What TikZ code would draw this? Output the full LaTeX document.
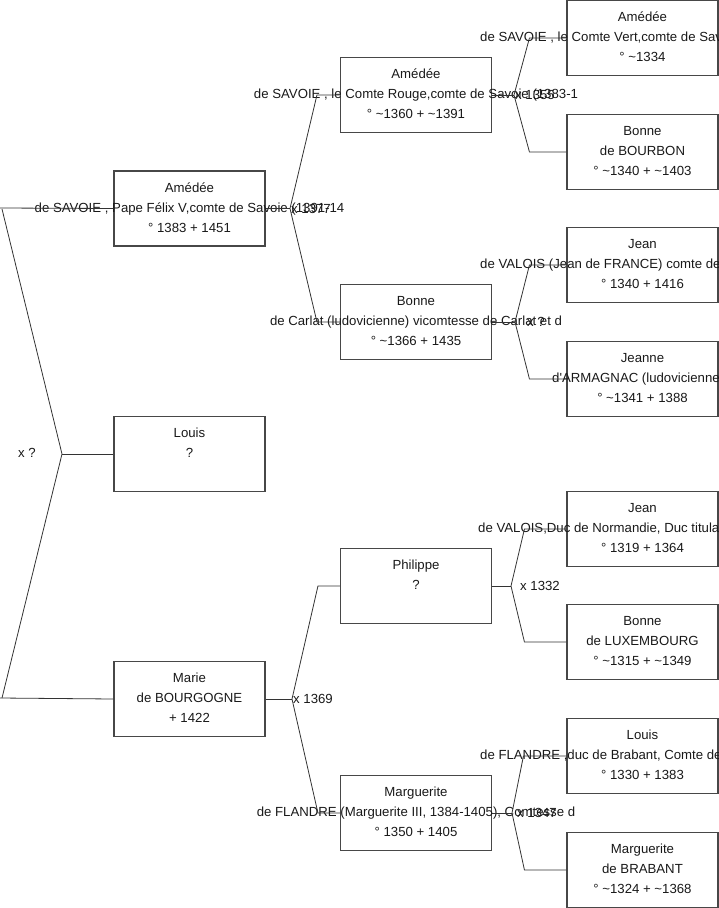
\documentclass[tikz,border=0pt]{standalone}
\usepackage{fontspec}
\setmainfont{Liberation Sans}
\usetikzlibrary{calc}
\tikzset{
  pbox/.style={draw=black!72, line width=1.1pt, minimum width=151pt, minimum height=75pt, inner sep=0pt},
  txt/.style={font=\fontsize{13.2}{15}\selectfont, text=black!90, inner sep=0pt, anchor=base},
  conn/.style={draw=black!80, line width=0.8pt},
}
\newcommand\person[8]{%
  \node[pbox] (#1) at (#2,#3) {};
  \node[txt] (#1a) at (#2,#3-16.5) {#4};
  \node[txt, anchor=#5] (#1b) at (#6,#3+3.5) {#7};
  \node[txt] (#1c) at (#2,#3+23.5) {#8};
}
\begin{document}
\begin{tikzpicture}[x=1pt,y=-1pt]
\useasboundingbox (0,0) rectangle (719,908);
% generation 1
\person{A1}{189.5}{208.5}{Amédée}{base}{189.5}{de SAVOIE , Pape Félix V,comte de Savoie (1391-14}{° 1383 + 1451}
\person{L1}{189.5}{454}{Louis}{base}{189.5}{?}{}
\person{M1}{189.5}{699}{Marie}{base}{189.5}{de BOURGOGNE}{+ 1422}
% generation 2
\person{A2}{416}{95}{Amédée}{base}{416}{de SAVOIE , le Comte Rouge,comte de Savoie (1383-1}{° \textasciitilde1360 + \textasciitilde1391}
\person{B2}{416}{322}{Bonne}{base}{416}{de Carlat (ludovicienne) vicomtesse de Carlat et d}{° \textasciitilde1366 + 1435}
\person{P2}{416}{586}{Philippe}{base}{416}{?}{}
\person{G2}{416}{813}{Marguerite}{base}{416}{de FLANDRE (Marguerite III, 1384-1405), Comtesse d}{° 1350 + 1405}
% generation 3
\person{A3}{642.5}{38}{Amédée}{base west}{480}{de SAVOIE , le Comte Vert,comte de Savoie (1343-13}{° \textasciitilde1334}
\person{B3}{642.5}{152}{Bonne}{base}{642.5}{de BOURBON}{° \textasciitilde1340 + \textasciitilde1403}
\person{J3}{642.5}{265}{Jean}{base west}{480}{de VALOIS (Jean de FRANCE) comte de Poitiers, duc}{° 1340 + 1416}
\person{N3}{642.5}{379}{Jeanne}{base west}{552}{d\textquotesingle ARMAGNAC (ludovicienne)}{° \textasciitilde1341 + 1388}
\person{K3}{642.5}{529}{Jean}{base west}{478}{de VALOIS,Duc de Normandie, Duc titulaire de Guye}{° 1319 + 1364}
\person{C3}{642.5}{642}{Bonne}{base}{642.5}{de LUXEMBOURG}{° \textasciitilde1315 + \textasciitilde1349}
\person{F3}{642.5}{756}{Louis}{base west}{480}{de FLANDRE ,duc de Brabant, Comte de Flandre (1346}{° 1330 + 1383}
\person{R3}{642.5}{870}{Marguerite}{base}{642.5}{de BRABANT}{° \textasciitilde1324 + \textasciitilde1368}
% root connectors
\coordinate (r1) at (0,208);
\coordinate (r2) at (0,698);
\coordinate (rt) at (2,209);
\coordinate (rb) at (2,698);
\coordinate (f0) at (62,454);
\draw[conn] (r1) -- (A1.west);
\draw[conn] (r2) -- (M1.west);
\draw[conn] (rt) -- (f0) -- (rb);
\draw[conn] (f0) -- (L1.west);
% gen1 -> gen2
\coordinate (fA1) at (290,208.5);
\draw[conn] (A1.east) -- (fA1);
\draw[conn] (A2.west) -- ++(-23,0) -- (fA1) -- ($(B2.west)+(-23,0)$) -- (B2.west);
\coordinate (fM1) at (292,699);
\draw[conn] (M1.east) -- (fM1);
\draw[conn] (P2.west) -- ++(-22,0) -- (fM1) -- ($(G2.west)+(-22,0)$) -- (G2.west);
% gen2 -> gen3
\coordinate (fA2) at (514,95);
\draw[conn] (A2.east) -- (fA2);
\draw[conn] (A3.west) -- ++(-37,0) -- (fA2) -- ($(B3.west)+(-37,0)$) -- (B3.west);
\coordinate (fB2) at (515,322);
\draw[conn] (B2.east) -- (fB2);
\draw[conn] (J3.west) -- ++(-37,0) -- (fB2) -- ($(N3.west)+(-37,0)$) -- (N3.west);
\coordinate (fP2) at (511,586);
\draw[conn] (P2.east) -- (fP2);
\draw[conn] (K3.west) -- ++(-42,0) -- (fP2) -- ($(C3.west)+(-42,0)$) -- (C3.west);
\coordinate (fG2) at (512,813);
\draw[conn] (G2.east) -- (fG2);
\draw[conn] (F3.west) -- ++(-43,0) -- (fG2) -- ($(R3.west)+(-42,0)$) -- (R3.west);
% marriage labels
\node[txt, anchor=base west] (x0) at (18,457.5) {x ?};
\node[txt, anchor=base west] (xA1) at (291,213) {x 1377};
\node[txt, anchor=base west] (xM1) at (293,703.5) {x 1369};
\node[txt, anchor=base west] (xA2) at (515,99.5) {x 1355};
\node[txt, anchor=base west] (xB2) at (527,326.5) {x ?};
\node[txt, anchor=base west] (xP2) at (520,590.5) {x 1332};
\node[txt, anchor=base west] (xG2) at (517,817.5) {x 1347};
\end{tikzpicture}
\end{document}
